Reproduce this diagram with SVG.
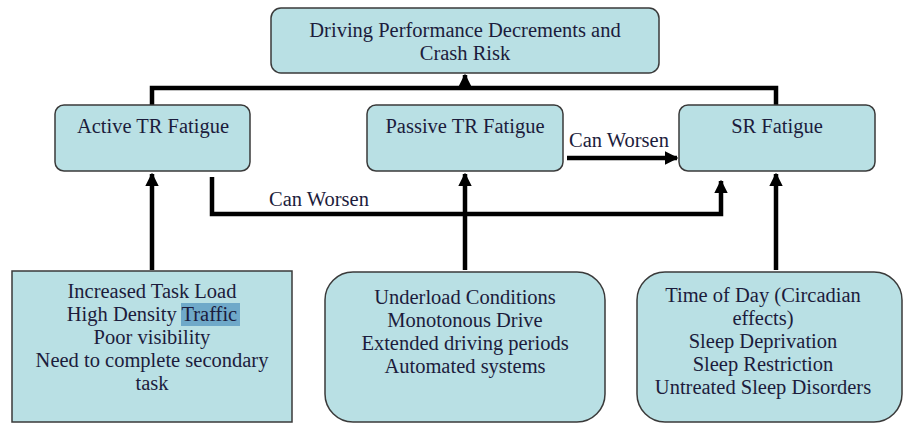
<svg xmlns="http://www.w3.org/2000/svg" width="906" height="423" viewBox="0 0 906 423">
<defs>
<style>
.box{fill:#b9e0e4;stroke:#3a3a3a;stroke-width:1.5}
.t{font-family:'Liberation Serif','Tinos','DejaVu Serif','Noto Serif',serif;font-size:20.5px;fill:#1c1c3c;text-anchor:middle}
.l{font-family:'Liberation Serif','Tinos','DejaVu Serif','Noto Serif',serif;font-size:20.5px;fill:#1c1c3c}
.c{fill:none;stroke:#000;stroke-width:4.5}
</style>
<marker id="ah" viewBox="0 0 10 10" refX="9" refY="5" markerWidth="3" markerHeight="3" orient="auto" markerUnits="strokeWidth">
<path d="M0,0 L10,5 L0,10 z" fill="#000"/>
</marker>
</defs>
<rect width="906" height="423" fill="#fff"/>
<g id="connectors">
<path class="c" d="M152,108 V88 H776 V108"/>
<path class="c" d="M465,88 V75" marker-end="url(#ah)"/>
<path class="c" d="M465,270 V174" marker-end="url(#ah)"/>
<path class="c" d="M152,270 V174" marker-end="url(#ah)"/>
<path class="c" d="M776,270 V174" marker-end="url(#ah)"/>
<path class="c" d="M212,177 V214 H721 V181" marker-end="url(#ah)"/>
<path class="c" d="M567,158 H677" marker-end="url(#ah)"/>
<text class="l" x="269" y="206">Can Worsen</text>
<text class="l" x="569" y="147">Can Worsen</text>
</g>
<g id="top">
<rect class="box" x="271" y="8" width="388" height="65" rx="10"/>
<text class="t" x="465" y="37">Driving Performance Decrements and</text>
<text class="t" x="465" y="60">Crash Risk</text>
</g>
<g id="active">
<rect class="box" x="55" y="105" width="195" height="66" rx="9"/>
<text class="t" x="153" y="133">Active TR Fatigue</text>
</g>
<g id="passive">
<rect class="box" x="367" y="105" width="196" height="66" rx="9"/>
<text class="t" x="465" y="133">Passive TR Fatigue</text>
</g>
<g id="sr">
<rect class="box" x="679" y="105" width="196" height="66" rx="9"/>
<text class="t" x="777" y="133">SR Fatigue</text>
</g>
<g id="active-causes">
<rect class="box" x="12" y="271" width="280" height="151"/>
<rect x="181" y="303" width="59" height="23" fill="#6fa9c9"/>
<text class="t" x="152" y="298">Increased Task Load</text>
<text class="t" x="152" y="321">High Density Traffic</text>
<text class="t" x="152" y="344">Poor visibility</text>
<text class="t" x="152" y="367">Need to complete secondary</text>
<text class="t" x="152" y="390">task</text>
</g>
<g id="passive-causes">
<rect class="box" x="325" y="272" width="280" height="150" rx="28"/>
<text class="t" x="465" y="304">Underload Conditions</text>
<text class="t" x="465" y="327">Monotonous Drive</text>
<text class="t" x="465" y="350">Extended driving periods</text>
<text class="t" x="465" y="373">Automated systems</text>
</g>
<g id="sr-causes">
<rect class="box" x="637" y="272" width="265" height="150" rx="28"/>
<text class="t" x="763" y="302">Time of Day (Circadian</text>
<text class="t" x="763" y="325">effects)</text>
<text class="t" x="763" y="348">Sleep Deprivation</text>
<text class="t" x="763" y="371">Sleep Restriction</text>
<text class="t" x="763" y="394">Untreated Sleep Disorders</text>
</g>
</svg>
